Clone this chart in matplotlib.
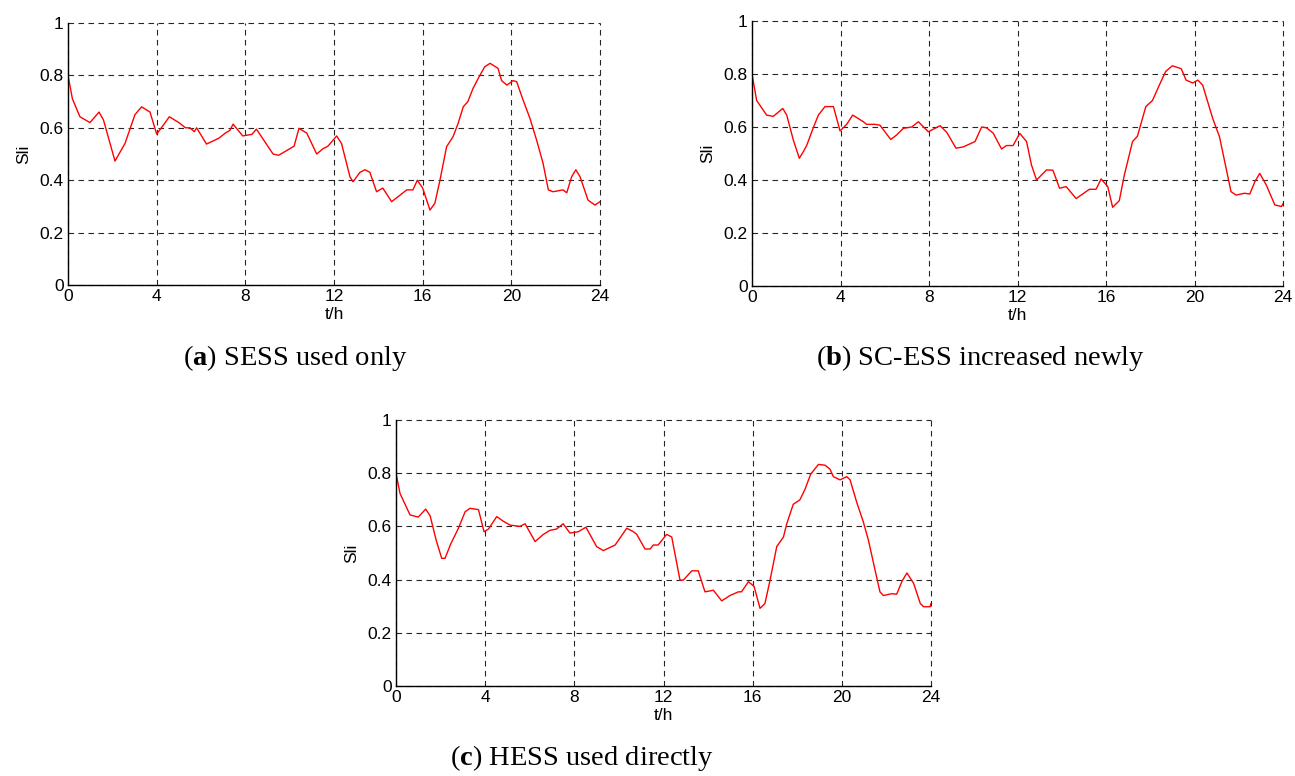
#! /usr/bin/env python
'''
    Sli curves over one day for three storage setups
'''

import matplotlib
matplotlib.use('Agg')
import matplotlib.pyplot as plt

# (a) SESS used only
t_a = [0, 0.2, 0.54, 0.99, 1.4, 1.6, 2.12, 2.3, 2.57, 3.02, 3.32, 3.7, 4.0, 4.3,
       4.57, 5.0, 5.3, 5.5, 5.7, 5.8, 6.25, 6.8, 7.1, 7.3, 7.45, 7.88, 8.3, 8.5,
       9.25, 9.5, 9.8, 10.2, 10.42, 10.77, 11.22, 11.5, 11.73, 12.12, 12.34,
       12.72, 12.86, 13.17, 13.4, 13.62, 13.92, 14.2, 14.6, 14.98, 15.28, 15.56,
       15.76, 16.0, 16.33, 16.55, 16.78, 17.08, 17.37, 17.6, 17.83, 18.04, 18.27,
       18.58, 18.8, 19.04, 19.4, 19.56, 19.8, 20.08, 20.24, 20.53, 20.84, 21.14,
       21.43, 21.67, 21.88, 22.33, 22.5, 22.72, 22.91, 23.1, 23.46, 23.77, 24]
sli_a = [0.80, 0.71, 0.642, 0.62, 0.66, 0.63, 0.473, 0.50, 0.54, 0.65, 0.68, 0.66,
         0.576, 0.61, 0.642, 0.62, 0.60, 0.60, 0.585, 0.60, 0.538, 0.56, 0.58, 0.59,
         0.614, 0.569, 0.575, 0.595, 0.50, 0.495, 0.51, 0.53, 0.598, 0.58, 0.50,
         0.52, 0.53, 0.569, 0.54, 0.413, 0.394, 0.43, 0.44, 0.43, 0.356, 0.37,
         0.318, 0.343, 0.363, 0.363, 0.40, 0.37, 0.286, 0.312, 0.40, 0.528, 0.566,
         0.617, 0.68, 0.70, 0.75, 0.80, 0.833, 0.846, 0.827, 0.78, 0.763, 0.78,
         0.776, 0.706, 0.636, 0.553, 0.465, 0.363, 0.356, 0.363, 0.352, 0.413,
         0.44, 0.413, 0.324, 0.305, 0.318]

# (b) SC-ESS increased newly
t_b = [0, 0.21, 0.66, 0.96, 1.39, 1.57, 1.87, 2.14, 2.32, 2.47, 2.76, 3.0, 3.3,
       3.68, 3.98, 4.28, 4.55, 5.03, 5.18, 5.56, 5.78, 6.27, 6.54, 6.84, 7.22,
       7.52, 7.97, 8.5, 8.8, 9.22, 9.55, 10.08, 10.38, 10.6, 10.9, 11.28, 11.5,
       11.8, 12.1, 12.41, 12.63, 12.86, 13.31, 13.6, 13.9, 14.2, 14.65, 15.25,
       15.55, 15.78, 16.08, 16.3, 16.6, 16.83, 17.2, 17.42, 17.8, 18.1, 18.48,
       18.7, 19.0, 19.4, 19.62, 19.92, 20.15, 20.37, 20.82, 21.13, 21.65, 21.88,
       22.26, 22.5, 22.73, 22.95, 23.25, 23.63, 23.93, 24]
sli_b = [0.80, 0.70, 0.645, 0.64, 0.67, 0.645, 0.55, 0.482, 0.507, 0.53, 0.595,
         0.645, 0.677, 0.677, 0.585, 0.61, 0.645, 0.62, 0.61, 0.61, 0.607, 0.553,
         0.57, 0.595, 0.60, 0.62, 0.582, 0.605, 0.58, 0.52, 0.525, 0.545, 0.60,
         0.597, 0.577, 0.517, 0.53, 0.53, 0.576, 0.545, 0.457, 0.40, 0.438, 0.437,
         0.369, 0.375, 0.33, 0.365, 0.365, 0.404, 0.375, 0.297, 0.322, 0.419,
         0.545, 0.565, 0.677, 0.70, 0.771, 0.81, 0.831, 0.82, 0.777, 0.766, 0.777,
         0.758, 0.633, 0.563, 0.356, 0.343, 0.35, 0.347, 0.394, 0.425, 0.38,
         0.306, 0.30, 0.31]

# (c) HESS used directly
t_c = [0, 0.18, 0.63, 1.0, 1.33, 1.53, 1.8, 2.05, 2.2, 2.45, 2.8, 3.1, 3.32, 3.7,
       3.95, 4.15, 4.52, 4.8, 5.12, 5.56, 5.79, 6.24, 6.61, 6.9, 7.2, 7.5, 7.8,
       8.18, 8.52, 9.0, 9.3, 9.83, 10.35, 10.65, 10.8, 11.17, 11.4, 11.54, 11.76,
       12.14, 12.37, 12.74, 12.89, 13.27, 13.56, 13.86, 14.24, 14.61, 14.98,
       15.36, 15.5, 15.81, 16.06, 16.33, 16.55, 16.78, 17.08, 17.38, 17.53,
       17.82, 18.12, 18.35, 18.6, 18.95, 19.25, 19.47, 19.62, 19.92, 20.22,
       20.37, 20.67, 20.96, 21.19, 21.49, 21.71, 21.86, 22.24, 22.46, 22.7,
       22.92, 23.22, 23.52, 23.67, 23.96, 24]
sli_c = [0.80, 0.724, 0.643, 0.635, 0.665, 0.64, 0.549, 0.48, 0.48, 0.533, 0.593,
         0.655, 0.668, 0.663, 0.58, 0.59, 0.637, 0.62, 0.605, 0.60, 0.61, 0.543,
         0.57, 0.585, 0.59, 0.61, 0.575, 0.58, 0.597, 0.524, 0.509, 0.53, 0.593,
         0.58, 0.57, 0.515, 0.515, 0.53, 0.53, 0.57, 0.56, 0.398, 0.398, 0.433,
         0.433, 0.354, 0.36, 0.32, 0.34, 0.354, 0.354, 0.392, 0.375, 0.292, 0.31,
         0.398, 0.524, 0.56, 0.61, 0.683, 0.70, 0.74, 0.796, 0.833, 0.83, 0.815,
         0.787, 0.775, 0.787, 0.775, 0.69, 0.618, 0.549, 0.436, 0.354, 0.34,
         0.347, 0.345, 0.394, 0.425, 0.386, 0.31, 0.298, 0.298, 0.31]

x_ticks = [0, 4, 8, 12, 16, 20, 24]
y_ticks = [0, 0.2, 0.4, 0.6, 0.8, 1]
y_ticklabels = ['0', '0.2', '0.4', '0.6', '0.8', '1']

panels = [
    ([68 / 1295, 1 - 285 / 776, 532 / 1295, 262 / 776], t_a, sli_a,
     'a', ' SESS used only', (295, 358)),
    ([752 / 1295, 1 - 286 / 776, 531 / 1295, 265 / 776], t_b, sli_b,
     'b', ' SC-ESS increased newly', (980, 358)),
    ([396 / 1295, 1 - 686 / 776, 535 / 1295, 266 / 776], t_c, sli_c,
     'c', ' HESS used directly', (582, 758)),
]

plt.rcParams['mathtext.fontset'] = 'custom'
plt.rcParams['mathtext.rm'] = 'Liberation Serif'
plt.rcParams['mathtext.bf'] = 'Liberation Serif:bold'

fig = plt.figure(figsize=(12.95, 7.76), dpi=100)
sans = ['Liberation Sans', 'DejaVu Sans']
serif = ['Liberation Serif', 'DejaVu Serif']

for rect, t, sli, letter, caption, (cx, cy) in panels:
    ax = fig.add_axes(rect)
    ax.plot(t, sli, color='red', lw=1.0)
    ax.set_xlim(0, 24)
    ax.set_ylim(0, 1)
    ax.set_xticks(x_ticks)
    ax.set_yticks(y_ticks)
    ax.set_yticklabels(y_ticklabels)
    ax.tick_params(length=0, pad=3, labelsize=12.5)
    for lab in ax.get_xticklabels() + ax.get_yticklabels():
        lab.set_family(sans)
    ax.spines['top'].set_visible(False)
    ax.spines['right'].set_visible(False)
    for s in ('left', 'bottom'):
        ax.spines[s].set_linewidth(1.0)
    ax.grid(True, color='black', linestyle=(0, (5, 4)), linewidth=0.8, alpha=0.85)
    for gl in ax.get_xgridlines() + ax.get_ygridlines():
        gl.set_clip_on(False)
    ax.set_xlabel('t/h', family=sans, fontsize=12.5, labelpad=2)
    ax.set_ylabel('Sli', family=sans, fontsize=12.5, labelpad=6)

    # caption under each panel, letter in bold
    fx, fy = cx / 1295, 1 - cy / 776
    fig.text(fx, fy, '(' + r'$\mathbf{' + letter + '}$' + ')' + caption,
             ha='center', va='center', fontsize=20.5, family=serif)

fig.savefig('out.png', dpi=100)
plt.close(fig)
